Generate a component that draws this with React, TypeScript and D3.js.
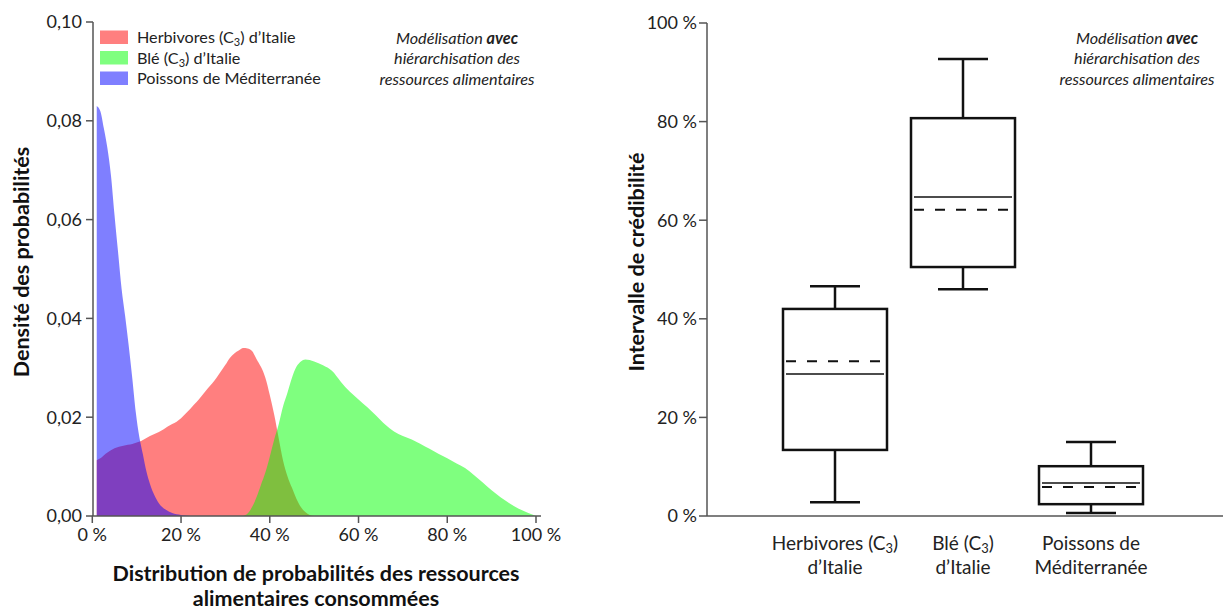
import React from "react";
import * as d3 from "d3";

// ---------- Left chart data (density curves) ----------
const herbivoresPct = [1, 2, 3, 4, 5, 6, 7, 8, 9, 10, 11, 12, 13, 14, 15, 16, 17, 18, 19, 20, 21, 22, 23, 24, 25, 26, 27, 28, 29, 30, 31, 32, 33, 34, 35, 36, 37, 38, 39, 40, 41, 42, 43, 44, 45, 46, 47, 48, 49, 50];
const herbivoresDens = [0.0113, 0.0118, 0.0126, 0.0132, 0.0137, 0.014, 0.0142, 0.0144, 0.0146, 0.0149, 0.0152, 0.0157, 0.0162, 0.0166, 0.017, 0.0175, 0.0181, 0.0186, 0.0191, 0.0198, 0.0207, 0.0216, 0.0226, 0.0236, 0.0247, 0.0258, 0.0268, 0.028, 0.0293, 0.0306, 0.032, 0.0329, 0.0335, 0.034, 0.0339, 0.0334, 0.0318, 0.0302, 0.028, 0.0245, 0.0205, 0.0158, 0.0112, 0.008, 0.0057, 0.0035, 0.0018, 0.0008, 0.0002, 0];

const blePct = [34, 35, 36, 37, 38, 39, 40, 41, 42, 43, 44, 45, 46, 47, 48, 49, 50, 52, 54, 56, 58, 60, 62, 64, 66, 68, 70, 72, 74, 76, 78, 80, 82, 84, 86, 88, 90, 92, 94, 96, 98, 100];
const bleDens = [0, 0.0005, 0.0018, 0.0038, 0.0063, 0.0088, 0.012, 0.0155, 0.0185, 0.0222, 0.025, 0.028, 0.0302, 0.0313, 0.0317, 0.0316, 0.0313, 0.0305, 0.0294, 0.0272, 0.0252, 0.0236, 0.022, 0.0203, 0.0185, 0.0171, 0.0162, 0.0155, 0.0146, 0.0136, 0.0126, 0.0117, 0.0107, 0.0097, 0.0083, 0.0068, 0.0052, 0.0038, 0.0026, 0.0015, 0.0007, 0];

const poissonsPct = [1, 1.8, 2.6, 3.4, 4.2, 5.0, 5.8, 6.6, 7.4, 8.2, 9.0, 9.8, 10.6, 11.4, 12.2, 13.0, 14.0, 15.0, 16.5, 18.0, 20.0, 22.0];
const poissonsDens = [0.083, 0.082, 0.0785, 0.0745, 0.069, 0.061, 0.0535, 0.046, 0.0405, 0.0345, 0.028, 0.021, 0.016, 0.0125, 0.009, 0.0065, 0.0042, 0.0026, 0.0013, 0.0006, 0.0002, 0];

const legendLabels = ["Herbivores (C", "Blé (C", "Poissons de Méditerranée"];
const legendSuffix = [") d’Italie", ") d’Italie", ""];
const legendColors = ["#ff0000", "#00ff00", "#0000ff"];

const densityTicks = [0, 0.02, 0.04, 0.06, 0.08, 0.1];
const pctTicksLeft = [0, 20, 40, 60, 80, 100];

// ---------- Right chart data (box plots) ----------
const boxCatLine1 = ["Herbivores (C", "Blé (C", "Poissons de"];
const boxCatSuffix = [")", ")", ""];
const boxCatLine2 = ["d’Italie", "d’Italie", "Méditerranée"];
const whiskerLow = [2.8, 46.0, 0.6];
const q1 = [13.4, 50.5, 2.4];
const median = [28.8, 64.7, 6.7];
const mean = [31.4, 62.1, 5.9];
const q3 = [42.0, 80.7, 10.1];
const whiskerHigh = [46.6, 92.7, 15.0];
const pctTicksRight = [0, 20, 40, 60, 80, 100];

const annotation = ["Modélisation ", "avec", "hiérarchisation des", "ressources alimentaires"];

const FONT = "Lato, 'Open Sans', sans-serif";
const frFmt = d3.formatLocale({ decimal: ",", thousands: " ", grouping: [3], currency: ["", "€"] }).format(".2f");

function Sub3({ size }: { size: number }) {
  return (
    <tspan fontSize={size * 0.68} dy={size * 0.18}>3</tspan>
  );
}

export default function App() {
  // Left chart scales
  const xL = d3.scaleLinear().domain([0, 100]).range([92.3, 536]);
  const yL = d3.scaleLinear().domain([0, 0.1]).range([516, 22]);
  const area = d3
    .area<[number, number]>()
    .x((d) => xL(d[0]))
    .y0(yL(0))
    .y1((d) => yL(d[1]))
    .curve(d3.curveMonotoneX);
  const series = [
    { pct: herbivoresPct, dens: herbivoresDens, color: legendColors[0] },
    { pct: blePct, dens: bleDens, color: legendColors[1] },
    { pct: poissonsPct, dens: poissonsDens, color: legendColors[2] },
  ];

  // Right chart scales
  const axisXR = 707;
  const xR = d3.scalePoint<number>().domain([0, 1, 2]).range([axisXR, 1219]).padding(1);
  const yR = d3.scaleLinear().domain([0, 100]).range([516, 23]);
  const boxW = 104;
  const capW = 50;

  const tickFs = 18;
  const catFs = 19;
  const titleFs = 21.5;
  const legFs = 16.2;
  return (
    <div style={{ position: "absolute", left: 0, top: 0 }}>
      <svg width={1223} height={610} style={{ display: "block", fontFamily: FONT }}>
        <rect width={1223} height={610} fill="#fff" />

        {/* ================= LEFT CHART ================= */}
        {series.map((s, i) => (
          <path
            key={i}
            d={area(s.pct.map((p, j) => [p, s.dens[j]] as [number, number])) || ""}
            fill={s.color}
            fillOpacity={0.5}
          />
        ))}
        {/* axes */}
        <line x1={93} x2={93} y1={yL(0.1)} y2={yL(0)} stroke="#555" strokeWidth={1.5} />
        <line x1={92} x2={541} y1={yL(0)} y2={yL(0)} stroke="#555" strokeWidth={1.5} />
        {densityTicks.map((t) => (
          <g key={t}>
            <line x1={86} x2={93} y1={yL(t)} y2={yL(t)} stroke="#555" strokeWidth={1.5} />
            <text x={82} y={yL(t)} dy="0.35em" textAnchor="end" fontSize={tickFs} fill="#222">
              {frFmt(t)}
            </text>
          </g>
        ))}
        {pctTicksLeft.map((t) => (
          <g key={t}>
            <line x1={xL(t)} x2={xL(t)} y1={516} y2={523} stroke="#555" strokeWidth={1.5} />
            <text x={xL(t)} y={535} dy="0.35em" textAnchor="middle" fontSize={tickFs} fill="#222">
              {`${t} %`}
            </text>
          </g>
        ))}
        <text
          transform={`translate(21,262) rotate(-90)`}
          textAnchor="middle"
          dy="0.35em"
          fontSize={titleFs}
          fontWeight="bold"
          fill="#111"
        >
          Densité des probabilités
        </text>
        <text x={316} y={573} dy="0.35em" textAnchor="middle" fontSize={titleFs} fontWeight="bold" fill="#111">
          Distribution de probabilités des ressources
        </text>
        <text x={316} y={598} dy="0.35em" textAnchor="middle" fontSize={titleFs} fontWeight="bold" fill="#111">
          alimentaires consommées
        </text>

        {/* legend */}
        {legendLabels.map((lab, i) => (
          <g key={lab}>
            <rect x={100} y={30.5 + i * 20.5} width={28} height={13.5} fill={legendColors[i]} fillOpacity={0.5} />
            <text x={137} y={37.5 + i * 20.5} dy="0.35em" fontSize={legFs} fill="#222">
              {lab}
              {legendSuffix[i] !== "" && <Sub3 size={legFs} />}
              {legendSuffix[i] !== "" && <tspan dy={-legFs * 0.18}>{legendSuffix[i]}</tspan>}
            </text>
          </g>
        ))}

        {/* annotations */}
        {[457, 1137].map((cx) => (
          <g key={cx} fontStyle="italic" fontSize={legFs} fill="#222" textAnchor="middle">
            <text x={cx} y={38} dy="0.35em">
              {annotation[0]}
              <tspan fontWeight="bold">{annotation[1]}</tspan>
            </text>
            <text x={cx} y={58.5} dy="0.35em">{annotation[2]}</text>
            <text x={cx} y={79} dy="0.35em">{annotation[3]}</text>
          </g>
        ))}

        {/* ================= RIGHT CHART ================= */}
        <line x1={axisXR} x2={axisXR} y1={yR(100)} y2={yR(0)} stroke="#555" strokeWidth={1.5} />
        <line x1={axisXR} x2={1223} y1={yR(0)} y2={yR(0)} stroke="#555" strokeWidth={1.5} />
        {pctTicksRight.map((t) => (
          <g key={t}>
            <line x1={axisXR - 8} x2={axisXR} y1={yR(t)} y2={yR(t)} stroke="#555" strokeWidth={1.5} />
            <text x={axisXR - 10} y={yR(t)} dy="0.35em" textAnchor="end" fontSize={tickFs} fill="#222">
              {`${t} %`}
            </text>
          </g>
        ))}
        <text
          transform={`translate(636,262) rotate(-90)`}
          textAnchor="middle"
          dy="0.35em"
          fontSize={titleFs}
          fontWeight="bold"
          fill="#111"
        >
          Intervalle de crédibilité
        </text>

        {boxCatLine1.map((lab, i) => {
          const cx = xR(i) as number;
          return (
            <g key={i}>
              {/* whiskers */}
              <line x1={cx} x2={cx} y1={yR(whiskerHigh[i])} y2={yR(q3[i])} stroke="#111" strokeWidth={2.5} />
              <line x1={cx} x2={cx} y1={yR(q1[i])} y2={yR(whiskerLow[i])} stroke="#111" strokeWidth={2.5} />
              <line x1={cx - capW / 2} x2={cx + capW / 2} y1={yR(whiskerHigh[i])} y2={yR(whiskerHigh[i])} stroke="#111" strokeWidth={2.5} />
              <line x1={cx - capW / 2} x2={cx + capW / 2} y1={yR(whiskerLow[i])} y2={yR(whiskerLow[i])} stroke="#111" strokeWidth={2.5} />
              {/* box */}
              <rect
                x={cx - boxW / 2}
                y={yR(q3[i])}
                width={boxW}
                height={yR(q1[i]) - yR(q3[i])}
                fill="none"
                stroke="#111"
                strokeWidth={2.5}
              />
              <line x1={cx - boxW / 2 + 3} x2={cx + boxW / 2 - 3} y1={yR(median[i])} y2={yR(median[i])} stroke="#111" strokeWidth={1.5} />
              <line
                x1={cx - boxW / 2 + 3}
                x2={cx + boxW / 2 - 3}
                y1={yR(mean[i])}
                y2={yR(mean[i])}
                stroke="#111"
                strokeWidth={2}
                strokeDasharray="10 11"
              />
              {/* labels */}
              <text x={cx} y={543} dy="0.35em" textAnchor="middle" fontSize={catFs} fill="#222">
                {lab}
                {boxCatSuffix[i] !== "" && <Sub3 size={catFs} />}
                {boxCatSuffix[i] !== "" && <tspan dy={-catFs * 0.18}>{boxCatSuffix[i]}</tspan>}
              </text>
              <text x={cx} y={567} dy="0.35em" textAnchor="middle" fontSize={catFs} fill="#222">
                {boxCatLine2[i]}
              </text>
            </g>
          );
        })}
      </svg>
    </div>
  );
}
